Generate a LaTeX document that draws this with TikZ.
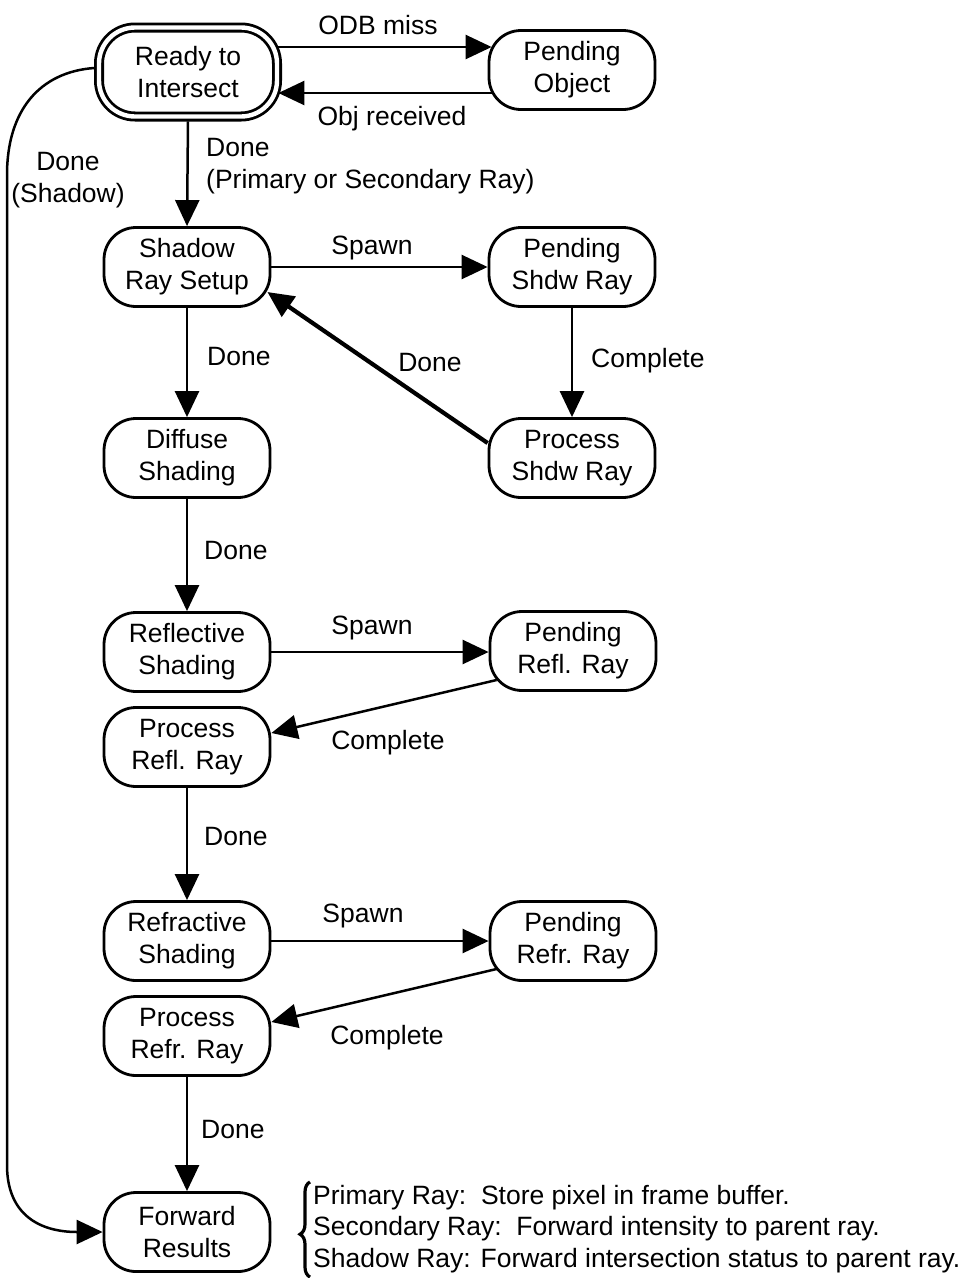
\documentclass[tikz,border=0pt]{standalone}
\usepackage{fontspec}
\setmainfont{Liberation Sans}
\usetikzlibrary{arrows.meta,calc,decorations.pathreplacing}

\begin{document}
\begin{tikzpicture}[x=1pt,y=-1pt,
  font=\fontsize{26.5}{32}\selectfont,
  stbox/.style={draw, line width=2.8pt, rounded corners=32pt,
    minimum width=166pt, minimum height=79pt, align=center, inner sep=0pt},
  arr/.style={line width=2.5pt, -{Triangle[length=26pt,width=24pt]}},
  heavy/.style={arr, line width=4.2pt},
  lbl/.style={inner sep=0pt, text height=19pt, text depth=0pt},
  mlbl/.style={inner sep=0pt, align=left}]

\useasboundingbox (0,0) rectangle (965,1278);

% states
\node[stbox, double, double distance=4.4pt, minimum width=178pt,
      minimum height=89pt, rounded corners=36pt] (ready) at (188,72) {Ready to\\Intersect};
\node[stbox] (pobj)     at (572,70)   {Pending\\Object};
\node[stbox] (shadow)   at (187,267)  {Shadow\\Ray Setup};
\node[stbox] (pshdw)    at (572,267)  {Pending\\Shdw Ray};
\node[stbox] (diffuse)  at (187,458)  {Diffuse\\Shading};
\node[stbox] (procshdw) at (572,458)  {Process\\Shdw Ray};
\node[stbox] (refl)     at (187,652)  {Reflective\\Shading};
\node[stbox] (prefl)    at (573,651)  {Pending\\Refl. Ray};
\node[stbox] (procrefl) at (187,747)  {Process\\Refl. Ray};
\node[stbox] (refr)     at (187,941)  {Refractive\\Shading};
\node[stbox] (prefr)    at (573,941)  {Pending\\Refr. Ray};
\node[stbox] (procrefr) at (187,1036) {Process\\Refr. Ray};
\node[stbox] (fwd)      at (187,1232) {Forward\\Results};

% transitions
\draw[arr] ($(ready.east)+(0,-25)$) -- ($(pobj.west)+(4,-23)$);
\draw[arr] ($(pobj.west)+(4,23)$) -- ($(ready.east)+(0,21)$);
\draw[arr] ($(ready.south)+(0,3.5)$) -- (shadow.north);
\draw[arr] ($(ready.west)+(-3.5,-4)$) .. controls (40,72) and (7,110) .. (7,175)
  -- (7,1165) .. controls (7,1215) and (40,1232) .. (fwd.west);

\draw[arr] (shadow.east) -- (pshdw.west);
\draw[arr] (shadow.south) -- (diffuse.north);
\draw[arr] (pshdw.south) -- (procshdw.north);
\draw[heavy] ($(procshdw.west)+(0,-15)$) -- ($(shadow.east)+(-4,25)$);

\draw[arr] (diffuse.south) -- (refl.north);
\draw[arr] (refl.east) -- (refl.east -| prefl.west);
\draw[arr] ($(prefl.west)+(8,29)$) -- ($(procrefl.east)+(0,-14)$);

\draw[arr] (procrefl.south) -- (refr.north);
\draw[arr] (refr.east) -- (prefr.west);
\draw[arr] ($(prefr.west)+(8,28)$) -- ($(procrefr.east)+(0,-14)$);

\draw[arr] (procrefr.south) -- (fwd.north);

% transition labels
\node[lbl] (lodb)  at (378,25)  {ODB miss};
\node[lbl] (lobj)  at (392,116) {Obj received};
\node[mlbl, anchor=west] (lprim) at (206,166) {Done\\(Primary or Secondary Ray)};
\node[mlbl, align=center] (lshd) at (68,180) {Done\\(Shadow)};
\node[lbl] (lsp1)  at (372,245) {Spawn};
\node[lbl, anchor=west] (ld1) at (207,356) {Done};
\node[lbl, anchor=west] (lc1) at (591,358) {Complete};
\node[lbl] (ld2)   at (430,362) {Done};
\node[lbl, anchor=west] (ld3) at (204,550) {Done};
\node[lbl] (lsp2)  at (372,625) {Spawn};
\node[lbl] (lc2)   at (388,740) {Complete};
\node[lbl, anchor=west] (ld4) at (204,836) {Done};
\node[lbl] (lsp3)  at (363,913) {Spawn};
\node[lbl] (lc3)   at (387,1035) {Complete};
\node[lbl, anchor=west] (ld5) at (201,1129) {Done};

% result notes
\node[mlbl, anchor=west, font=\fontsize{26.5}{31.5}\selectfont] (legend) at (313,1229)
  {Primary Ray:\ \ Store pixel in frame buffer.\\
   Secondary Ray:\ \ Forward intensity to parent ray.\\
   Shadow Ray: Forward intersection status to parent ray.};
\draw[line width=3.2pt, decorate, decoration={brace, amplitude=10pt, aspect=0.45}]
  ($(legend.south west)+(-3,4)$) -- ($(legend.north west)+(-3,-3)$);

\end{tikzpicture}
\end{document}
